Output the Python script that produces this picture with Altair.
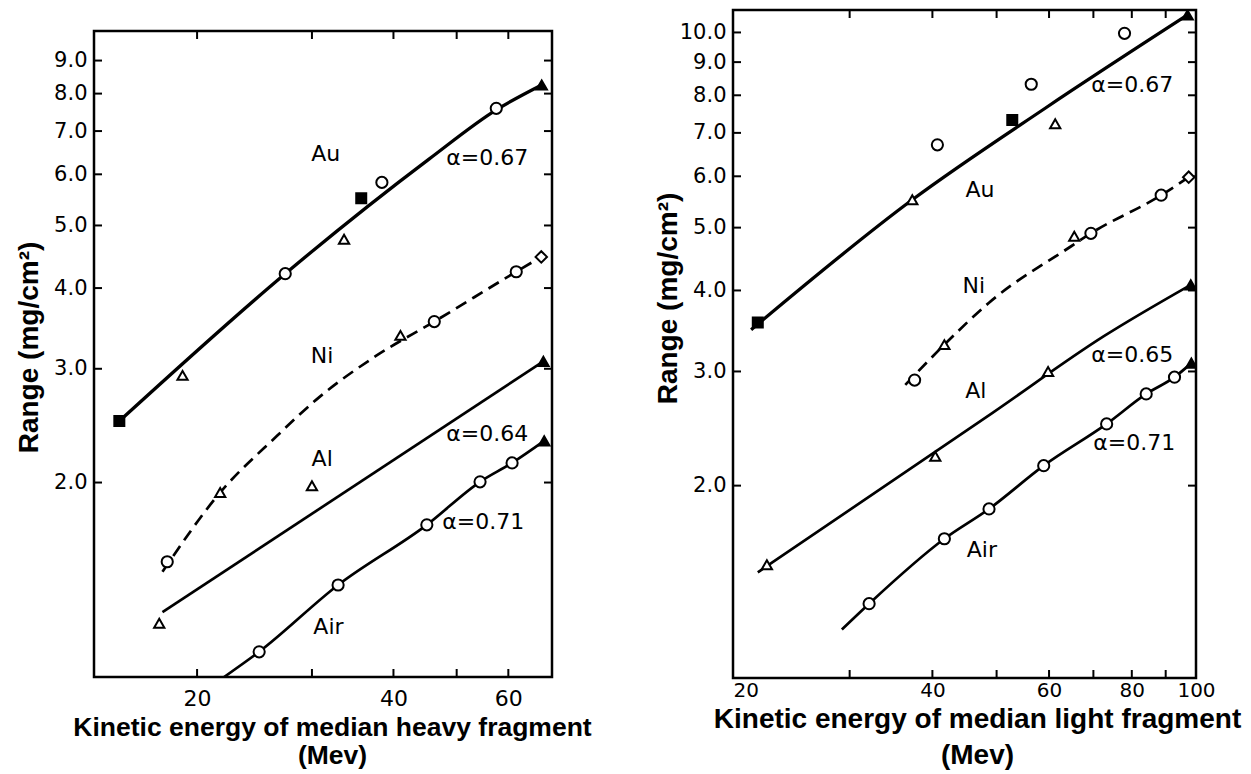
import altair as alt
import pandas as pd

# ---------------- LEFT panel: median heavy fragment ----------------
h_line_series = ["Au"] * 5 + ["Ni"] * 8 + ["Al"] * 2 + ["Air"] * 7
h_line_E = [15.2, 27.3, 45.4, 57.5, 67.5,
            17.7, 21.7, 26.5, 30.5, 37.6, 46.2, 61.7, 67.4,
            17.7, 67.9,
            22.0, 24.9, 32.9, 45.0, 54.3, 60.8, 68.1]
h_line_R = [2.49, 4.21, 6.34, 7.55, 8.25,
            1.455, 1.93, 2.36, 2.69, 3.14, 3.55, 4.24, 4.47,
            1.26, 3.08,
            1.0, 1.094, 1.388, 1.72, 2.005, 2.145, 2.32]

h_pt_series = ["Au"] * 8 + ["Ni"] * 6 + ["Al"] * 3 + ["Air"] * 6
h_pt_marker = ["sq_f", "tri", "circ", "tri", "sq_f", "circ", "circ", "tri_f",
               "circ", "tri", "tri", "circ", "circ", "dia",
               "tri", "tri", "tri_f",
               "circ", "circ", "circ", "circ", "circ", "tri_f"]
h_pt_E = [15.2, 19.0, 27.3, 33.6, 35.7, 38.4, 57.5, 67.5,
          18.0, 21.7, 41.0, 46.2, 61.7, 67.4,
          17.5, 30.0, 67.9,
          24.9, 32.9, 45.0, 54.3, 60.8, 68.1]
h_pt_R = [2.49, 2.93, 4.21, 4.76, 5.51, 5.83, 7.59, 8.25,
          1.508, 1.93, 3.38, 3.55, 4.24, 4.47,
          1.211, 1.977, 3.08,
          1.094, 1.388, 1.72, 2.005, 2.145, 2.32]

h_txt = ["Au", "α=0.67", "Ni", "Al", "α=0.64", "α=0.71", "Air"]
h_txt_E = [31.5, 55.7, 31.1, 31.1, 55.7, 54.9, 31.8]
h_txt_R = [6.45, 6.36, 3.14, 2.175, 2.378, 1.736, 1.194]

h_x_domain = [13.9, 70.0]
h_y_domain = [1.0, 10.0]
h_x_labels = [20, 40, 60]
h_x_ticks = [20, 30, 40, 50, 60]
h_y_ticks = [2, 3, 4, 5, 6, 7, 8, 9]

# ---------------- RIGHT panel: median light fragment ----------------
l_line_series = ["Au"] * 4 + ["Ni"] * 7 + ["Al"] * 4 + ["Air"] * 9
l_line_E = [21.3, 37.3, 59.2, 97.1,
            36.4, 41.7, 48.7, 64.8, 69.4, 88.6, 97.5,
            21.8, 49.3, 72.6, 98.2,
            29.2, 32.1, 41.7, 48.7, 58.9, 73.3, 84.1, 92.8, 98.4]
l_line_R = [3.48, 5.52, 7.64, 10.64,
            2.86, 3.30, 3.83, 4.68, 4.90, 5.61, 5.98,
            1.47, 2.59, 3.40, 4.08,
            1.20, 1.315, 1.656, 1.841, 2.147, 2.49, 2.77, 2.94, 3.09]

l_pt_series = ["Au"] * 8 + ["Ni"] * 6 + ["Al"] * 4 + ["Air"] * 8
l_pt_marker = ["sq_f", "tri", "circ", "sq_f", "circ", "tri", "circ", "tri_f",
               "circ", "tri", "tri", "circ", "circ", "dia",
               "tri", "tri", "tri", "tri_f",
               "circ", "circ", "circ", "circ", "circ", "circ", "circ", "tri_f"]
l_pt_E = [21.8, 37.3, 40.7, 52.8, 56.4, 61.3, 78.0, 97.1,
          37.6, 41.7, 65.5, 69.4, 88.6, 97.5,
          22.5, 40.4, 59.8, 98.2,
          32.1, 41.7, 48.7, 58.9, 73.3, 84.1, 92.8, 98.4]
l_pt_R = [3.57, 5.52, 6.71, 7.33, 8.32, 7.23, 9.97, 10.64,
          2.91, 3.30, 4.85, 4.90, 5.61, 5.98,
          1.51, 2.22, 3.00, 4.08,
          1.315, 1.656, 1.841, 2.147, 2.49, 2.77, 2.94, 3.09]

l_txt = ["α=0.67", "Au", "Ni", "α=0.65", "Al", "α=0.71", "Air"]
l_txt_E = [80.1, 47.2, 46.2, 80.1, 46.5, 80.7, 47.5]
l_txt_R = [8.31, 5.72, 4.06, 3.18, 2.80, 2.33, 1.59]

l_x_domain = [20, 100]
l_y_domain = [1.01, 10.83]
l_x_labels = [20, 40, 60, 80, 100]
l_x_ticks = [30, 40, 50, 60, 70, 80, 90]
l_y_ticks = [2, 3, 4, 5, 6, 7, 8, 9, 10]

marker_kinds = ["circ", "tri", "sq_f", "tri_f", "dia"]
marker_shapes = ["circle", "triangle-up", "square", "triangle-up", "diamond"]
marker_fills = ["white", "white", "black", "black", "white"]
marker_sizes = [125, 105, 100, 110, 130]

TITLE_FONT = "Liberation Sans"
LABEL_FONT = "DejaVu Sans"


def panel(line_s, line_E, line_R, pt_s, pt_m, pt_E, pt_R, txt, txt_E, txt_R,
          xdom, ydom, xlabels, xticks, yticks, w, h, xtitle, xtitle_size,
          xlabel_size, xlabel_pad, xtitle_x, xtitle_y, xtitle_lh,
          ytitle_x, ytitle_y, xlabel_align):
    lines = pd.DataFrame({"series": line_s, "E": line_E, "R": line_R})
    lines["i"] = range(len(lines))
    lines["sw"] = [3.3 if s == "Au" else 2.7 for s in line_s]
    pts = pd.DataFrame({"series": pt_s, "m": pt_m, "E": pt_E, "R": pt_R})
    pts["sz"] = [marker_sizes[marker_kinds.index(m)] for m in pt_m]
    texts = pd.DataFrame({"t": txt, "E": txt_E, "R": txt_R})

    xs = alt.Scale(type="log", domain=xdom, nice=False)
    ys = alt.Scale(type="log", domain=ydom, nice=False)

    xaxis = alt.Axis(values=xlabels, format="d", ticks=False, domain=False, grid=False,
                     labelFont=LABEL_FONT, labelFontSize=xlabel_size, labelColor="black",
                     labelPadding=xlabel_pad, labelAlign=xlabel_align,
                     title=xtitle, titleFont=TITLE_FONT, titleFontSize=xtitle_size,
                     titleFontWeight="bold", titleColor="black",
                     titleX=xtitle_x, titleY=xtitle_y, titleBaseline="top",
                     titleLineHeight=xtitle_lh)
    yaxis = alt.Axis(values=yticks, format=".1f", ticks=False, domain=False, grid=False,
                     labelFont=LABEL_FONT, labelFontSize=21, labelColor="black",
                     labelPadding=7,
                     title="Range (mg/cm²)", titleFont=TITLE_FONT, titleFontSize=28,
                     titleFontWeight="bold", titleColor="black",
                     titleX=ytitle_x, titleY=ytitle_y, titleBaseline="middle")

    X = lambda f: alt.X(f, scale=xs, axis=xaxis)
    Y = lambda f: alt.Y(f, scale=ys, axis=yaxis)

    base_line = alt.Chart(lines).encode(
        x=X("E:Q"), y=Y("R:Q"),
        detail="series:N",
        order="i:Q",
        strokeWidth=alt.StrokeWidth("sw:Q", scale=None),
    )
    solid = base_line.transform_filter("datum.series != 'Ni'").mark_line(
        color="black", clip=True, interpolate="monotone")
    dashed = base_line.transform_filter("datum.series == 'Ni'").mark_line(
        color="black", clip=True, interpolate="monotone", strokeDash=[12, 7])

    points = alt.Chart(pts).mark_point(filled=True, stroke="black", strokeWidth=2,
                                       opacity=1, clip=True).encode(
        x=X("E:Q"), y=Y("R:Q"),
        shape=alt.Shape("m:N", scale=alt.Scale(domain=marker_kinds, range=marker_shapes), legend=None),
        fill=alt.Fill("m:N", scale=alt.Scale(domain=marker_kinds, range=marker_fills), legend=None),
        size=alt.Size("sz:Q", scale=None),
    )

    labels = alt.Chart(texts).mark_text(font=LABEL_FONT, fontSize=22, color="black",
                                        align="center", baseline="middle").encode(
        x=X("E:Q"), y=Y("R:Q"), text="t:N",
    )

    yt = pd.DataFrame({"v": yticks})
    xt = pd.DataFrame({"v": xticks})
    ytick_l = alt.Chart(yt).mark_rule(color="black", strokeWidth=2).encode(
        y=Y("v:Q"), x=alt.value(0), x2=alt.value(8))
    ytick_r = alt.Chart(yt).mark_rule(color="black", strokeWidth=2).encode(
        y=Y("v:Q"), x=alt.value(w - 8), x2=alt.value(w))
    xtick_b = alt.Chart(xt).mark_rule(color="black", strokeWidth=2).encode(
        x=X("v:Q"), y=alt.value(h - 8), y2=alt.value(h))
    xtick_t = alt.Chart(xt).mark_rule(color="black", strokeWidth=2).encode(
        x=X("v:Q"), y=alt.value(1), y2=alt.value(8))

    return alt.layer(solid, dashed, ytick_l, ytick_r, xtick_b, xtick_t, points, labels).properties(
        width=w, height=h)


left = panel(h_line_series, h_line_E, h_line_R, h_pt_series, h_pt_marker, h_pt_E, h_pt_R,
             h_txt, h_txt_E, h_txt_R, h_x_domain, h_y_domain, h_x_labels, h_x_ticks, h_y_ticks,
             458, 646, ["Kinetic energy of median heavy fragment", "(Mev)"], 26.5,
             22, 11, 238, 37, 28, -65, 316, "center")

right = panel(l_line_series, l_line_E, l_line_R, l_pt_series, l_pt_marker, l_pt_E, l_pt_R,
              l_txt, l_txt_E, l_txt_R, l_x_domain, l_y_domain, l_x_labels, l_x_ticks, l_y_ticks,
              463, 668, ["Kinetic energy of median light fragment", "(Mev)"], 28,
              20, 2, 244, 27, 36, -65, 288,
              {"condition": {"test": "datum.value <= 20", "value": "left"}, "value": "center"})

spacer_df = pd.DataFrame({"s": [0]})
spacer = alt.Chart(spacer_df).mark_point(opacity=0, size=1).encode(
    x=alt.value(0), y=alt.value(2)
).properties(width=4, height=4, view=alt.ViewBackground(strokeOpacity=0))

left_col = alt.vconcat(spacer, left, spacing=15)

chart = alt.hconcat(left_col, right, spacing=59).properties(
    padding={"left": 5, "top": 0, "right": 0, "bottom": 0}
).configure(background="white").configure_view(stroke="black", strokeWidth=2.5)

chart.save("out.html", embed_options={"renderer": "svg", "actions": False})
